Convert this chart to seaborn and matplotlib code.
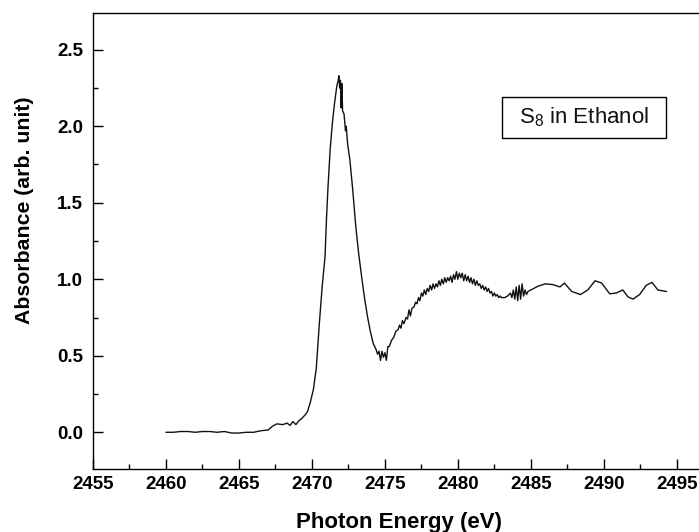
import numpy as np
import pandas as pd
import matplotlib
matplotlib.use("Agg")
import matplotlib.pyplot as plt
import matplotlib.patches as patches
from matplotlib.ticker import MultipleLocator
import seaborn as sns

# ------------------------------------------------------------
# S K-edge XANES of S8 in ethanol
# ------------------------------------------------------------
ENERGY_EV = [
    2460.0, 2460.5, 2461.0, 2461.5, 2462.0, 2462.5, 2463.0, 2463.5, 2464.0, 2464.5,
    2465.0, 2465.5, 2466.0, 2466.5, 2467.0, 2467.3, 2467.6, 2468.0, 2468.3, 2468.5,
    2468.7, 2468.9, 2469.1, 2469.3, 2469.5, 2469.7, 2469.9, 2470.1, 2470.3, 2470.5,
    2470.7, 2470.9, 2471.0, 2471.1, 2471.25, 2471.4, 2471.55, 2471.7, 2471.8, 2471.85,
    2471.9, 2471.95, 2472.0, 2472.05, 2472.1, 2472.2, 2472.3, 2472.35, 2472.45, 2472.6,
    2472.8, 2473.0, 2473.2, 2473.4, 2473.6, 2473.8, 2474.0, 2474.2, 2474.4, 2474.5,
    2474.6, 2474.7, 2474.8, 2474.9, 2475.0, 2475.1, 2475.2, 2475.3, 2475.45, 2475.6,
    2475.75, 2475.9, 2476.0, 2476.1, 2476.2, 2476.3, 2476.45, 2476.55, 2476.65, 2476.75,
    2476.85, 2477.0, 2477.1, 2477.2, 2477.3, 2477.4, 2477.5, 2477.6, 2477.7, 2477.8,
    2477.9, 2478.0, 2478.1, 2478.2, 2478.3, 2478.4, 2478.5, 2478.6, 2478.7, 2478.8,
    2478.9, 2479.0, 2479.1, 2479.2, 2479.3, 2479.4, 2479.5, 2479.6, 2479.7, 2479.8,
    2479.9, 2480.0, 2480.1, 2480.2, 2480.3, 2480.4, 2480.5, 2480.6, 2480.7, 2480.8,
    2480.9, 2481.0, 2481.1, 2481.2, 2481.3, 2481.4, 2481.5, 2481.6, 2481.7, 2481.8,
    2481.9, 2482.0, 2482.1, 2482.2, 2482.3, 2482.4, 2482.5, 2482.6, 2482.7, 2482.8,
    2482.9, 2483.0, 2483.2, 2483.4, 2483.6, 2483.7, 2483.8, 2483.9, 2484.0, 2484.1,
    2484.2, 2484.3, 2484.4, 2484.5, 2484.6, 2484.7, 2484.8, 2485.0, 2485.5, 2486.0,
    2486.5, 2487.0, 2487.3, 2487.8, 2488.4, 2488.9, 2489.4, 2489.85, 2490.4, 2490.85,
    2491.3, 2491.65, 2492.0, 2492.45, 2492.9, 2493.3, 2493.7, 2494.3,
]

ABSORBANCE = [
    0.00, 0.00, 0.005, 0.005, 0.00, 0.005, 0.005, 0.00, 0.005, -0.005,
    -0.005, 0.00, 0.00, 0.01, 0.015, 0.04, 0.055, 0.05, 0.06, 0.045,
    0.07, 0.05, 0.075, 0.09, 0.11, 0.135, 0.20, 0.28, 0.42, 0.70,
    0.95, 1.15, 1.40, 1.60, 1.85, 2.02, 2.15, 2.26, 2.30, 2.33,
    2.25, 2.30, 2.12, 2.28, 2.10, 2.08, 1.97, 2.00, 1.88, 1.78,
    1.58, 1.35, 1.17, 1.02, 0.88, 0.76, 0.66, 0.58, 0.54, 0.51,
    0.53, 0.47, 0.53, 0.49, 0.52, 0.47, 0.56, 0.56, 0.60, 0.62,
    0.66, 0.67, 0.70, 0.68, 0.73, 0.71, 0.75, 0.74, 0.80, 0.76,
    0.81, 0.82, 0.85, 0.84, 0.88, 0.86, 0.91, 0.89, 0.93, 0.90,
    0.94, 0.92, 0.96, 0.93, 0.97, 0.94, 0.97, 0.95, 0.99, 0.96,
    1.00, 0.97, 1.01, 0.98, 1.01, 0.99, 1.02, 0.98, 1.03, 1.00,
    1.05, 1.00, 1.04, 1.01, 1.04, 0.99, 1.03, 0.99, 1.02, 0.98,
    1.01, 0.97, 1.00, 0.96, 0.99, 0.96, 0.97, 0.94, 0.96, 0.93,
    0.95, 0.92, 0.94, 0.91, 0.92, 0.89, 0.91, 0.89, 0.90, 0.88,
    0.89, 0.88, 0.88, 0.89, 0.91, 0.88, 0.93, 0.87, 0.95, 0.86,
    0.96, 0.87, 0.97, 0.89, 0.93, 0.90, 0.92, 0.93, 0.955, 0.97,
    0.965, 0.95, 0.975, 0.92, 0.90, 0.93, 0.99, 0.975, 0.905, 0.91,
    0.93, 0.885, 0.87, 0.90, 0.96, 0.98, 0.93, 0.92,
]

X_TICKS = [2455, 2460, 2465, 2470, 2475, 2480, 2485, 2490, 2495]
Y_TICKS = [0.0, 0.5, 1.0, 1.5, 2.0, 2.5]


def main():
    df = pd.DataFrame({"Energy": ENERGY_EV, "Absorbance": ABSORBANCE})

    sns.set_theme(style="ticks")
    plt.rcParams["font.family"] = ["Liberation Sans", "DejaVu Sans"]
    plt.rcParams["mathtext.fontset"] = "custom"
    plt.rcParams["mathtext.rm"] = "Liberation Sans"
    plt.rcParams["mathtext.default"] = "regular"

    fig = plt.figure(figsize=(6.99, 5.32), dpi=100)
    # right spine sits just outside the canvas, as in the cropped original
    ax = fig.add_axes([93 / 699, 63 / 532, 613 / 699, 456 / 532])

    sns.lineplot(
        data=df,
        x="Energy",
        y="Absorbance",
        sort=False,
        estimator=None,
        color="#111111",
        linewidth=1.0,
        ax=ax
    )

    ax.set_xlim(2455, 2497)
    ax.set_ylim(-0.24, 2.74)
    ax.set_xticks(X_TICKS)
    ax.set_yticks(Y_TICKS)
    ax.set_yticklabels([f"{v:.1f}" for v in Y_TICKS])
    ax.xaxis.set_minor_locator(MultipleLocator(2.5))
    ax.yaxis.set_minor_locator(MultipleLocator(0.25))

    ax.tick_params(axis="both", which="major", direction="in", length=7,
                   width=1.0, color="black", top=False, right=False)
    ax.tick_params(axis="both", which="minor", direction="in", length=3.5,
                   width=1.0, color="black", top=False, right=False)
    ax.tick_params(axis="x", which="major", pad=5)
    ax.tick_params(axis="y", which="major", pad=7)

    for lab in ax.get_xticklabels() + ax.get_yticklabels():
        lab.set_family(["Liberation Sans", "DejaVu Sans"])
        lab.set_fontweight("bold")
        lab.set_fontsize(13.5)
        lab.set_color("black")

    for sp in ax.spines.values():
        sp.set_linewidth(1.0)
        sp.set_color("black")

    ax.set_xlabel("Photon Energy (eV)", fontsize=16, fontweight="bold",
                  color="black", labelpad=14)
    ax.set_ylabel("Absorbance (arb. unit)", fontsize=15.3, fontweight="bold",
                  color="black")
    ax.yaxis.set_label_coords(-0.097, 0.568)

    # legend-like label box
    box = patches.Rectangle(
        (502 / 699, 1 - 138 / 532), 164 / 699, 41 / 532,
        transform=fig.transFigure, facecolor="white", edgecolor="black",
        linewidth=1.0, zorder=5
    )
    fig.patches.append(box)
    fig.text(584 / 699, 1 - 117 / 532, r"S$_8$ in Ethanol", fontsize=16,
             color="#111111", ha="center", va="center", zorder=6)

    fig.savefig("out.png", dpi=100)
    plt.close(fig)


if __name__ == "__main__":
    main()
